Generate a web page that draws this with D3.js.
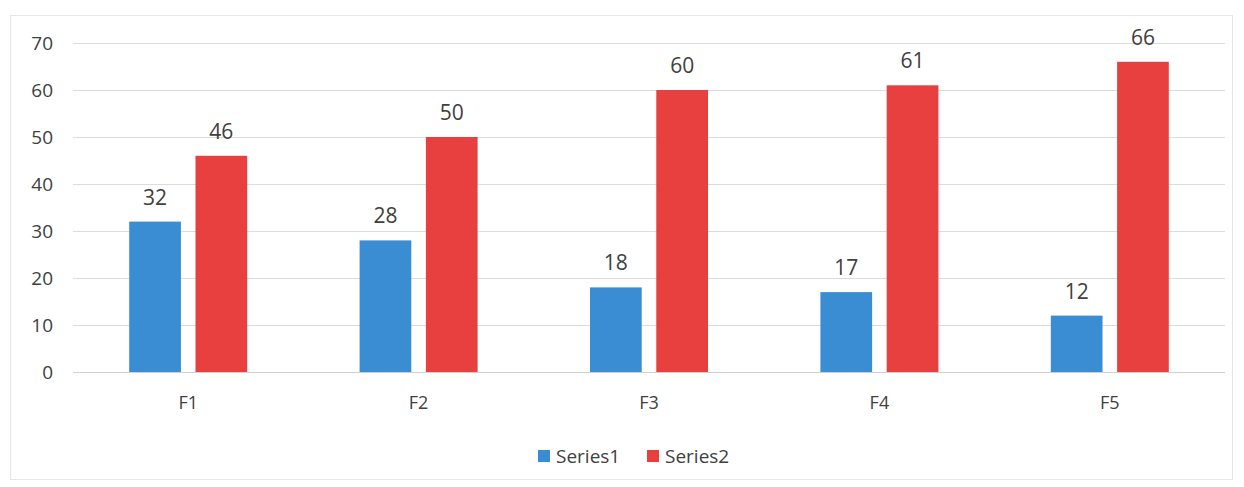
<!DOCTYPE html>
<html><head><meta charset="utf-8">
<script src="https://cdn.jsdelivr.net/npm/d3@7"></script>
<style>body{margin:0;background:#fff}svg{display:block}text{font-family:"Open Sans","Liberation Sans",sans-serif;fill:#404040}</style>
</head><body>
<script>
const categories = ["F1","F2","F3","F4","F5"];
const series1 = [32,28,18,17,12];
const series2 = [46,50,60,61,66];
const seriesNames = ["Series1","Series2"];
const colors = ["#3a8dd2","#e8403f"];
const yTicks = [0,10,20,30,40,50,60,70];

const W=1244,H=487;
const svg=d3.select("body").append("svg").attr("width",W).attr("height",H);
svg.append("rect").attr("x",10.5).attr("y",15.5).attr("width",1222).attr("height",464).attr("fill","none").attr("stroke","#e6e6e6");

const x0=d3.scaleBand().domain(categories).range([73,1225]);
const x1=d3.scaleBand().domain(seriesNames).range([0,118]).paddingInner(0.22);
const y=d3.scaleLinear().domain([0,70]).range([372,43]);

const g=svg.append("g");
g.selectAll("line.grid").data(yTicks).join("line").attr("class","grid")
 .attr("x1",73).attr("x2",1225).attr("y1",d=>y(d)+0.5).attr("y2",d=>y(d)+0.5)
 .attr("stroke",d=>d===0?"#d0d0d0":"#dcdcdc").attr("stroke-width",1);

const ff="'Open Sans','Liberation Sans',sans-serif";
const yAxis=d3.axisLeft(y).tickValues(yTicks).tickSize(0).tickPadding(0);
const ya=svg.append("g").attr("transform","translate(53,0)").call(yAxis);
ya.select(".domain").remove();
ya.selectAll("text").attr("font-size",19).attr("fill","#404040").style("font-family",ff);

const xAxis=d3.axisBottom(x0).tickSize(0).tickPadding(0);
const xa=svg.append("g").attr("transform","translate(0,396)").call(xAxis);
xa.select(".domain").remove();
xa.selectAll("text").attr("font-size",18).attr("fill","#404040").style("font-family",ff);

const data=categories.map((c,i)=>({c,vals:[{s:seriesNames[0],v:series1[i],k:0},{s:seriesNames[1],v:series2[i],k:1}]}));
const grp=svg.selectAll("g.cat").data(data).join("g").attr("class","cat")
 .attr("transform",d=>`translate(${x0(d.c)+x0.bandwidth()/2-59},0)`);
grp.selectAll("rect").data(d=>d.vals).join("rect")
 .attr("x",d=>x1(d.s)).attr("width",x1.bandwidth())
 .attr("y",d=>y(d.v)).attr("height",d=>y(0)-y(d.v)).attr("fill",d=>colors[d.k]);
grp.selectAll("text.lbl").data(d=>d.vals).join("text").attr("class","lbl")
 .attr("x",d=>x1(d.s)+x1.bandwidth()/2).attr("y",d=>y(d.v)-17)
 .attr("text-anchor","middle").attr("font-size",21).text(d=>d.v);

const leg=svg.append("g").attr("transform","translate(538,450)");
const items=[{n:seriesNames[0],c:colors[0],x:0},{n:seriesNames[1],c:colors[1],x:109}];
items.forEach(it=>{
 leg.append("rect").attr("x",it.x).attr("y",0).attr("width",12).attr("height",12).attr("fill",it.c);
 leg.append("text").attr("x",it.x+18).attr("y",13).attr("font-size",19).text(it.n);
});
</script>
</body></html>
